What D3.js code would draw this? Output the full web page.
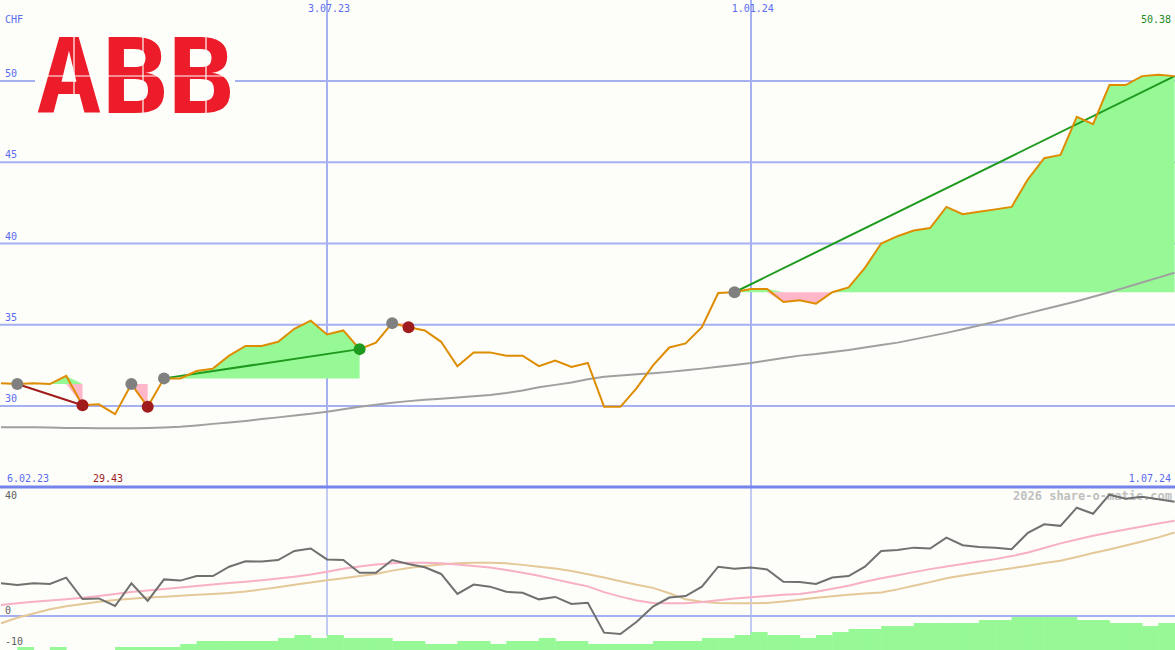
<!DOCTYPE html>
<html><head><meta charset="utf-8">
<script src="https://cdn.jsdelivr.net/npm/d3@7"></script>
<style>body{margin:0;background:#fdfdf9}svg{display:block}text{font-family:"DejaVu Sans Mono",monospace}</style>
</head><body><svg id="c" width="1175" height="650"></svg>
<script>
const priceTicks = [30, 35, 40, 45, 50];
const dateTicks = [{k:20,label:"3.07.23"},{k:46,label:"1.01.24"}];
const price = [31.4,31.35,31.4,31.35,31.85,30.05,30.1,29.5,31.35,29.95,31.7,31.7,32.15,32.3,33.1,33.7,33.7,33.95,34.75,35.25,34.4,34.65,33.5,33.9,35.1,34.85,34.65,33.95,32.45,33.3,33.3,33.1,33.1,32.45,32.8,32.4,32.65,29.95,29.95,31.1,32.5,33.6,33.85,34.85,36.95,37.0,37.2,37.2,36.4,36.5,36.3,37.0,37.3,38.5,40.0,40.45,40.8,40.95,42.25,41.8,41.95,42.1,42.25,43.95,45.25,45.45,47.8,47.35,49.75,49.75,50.3,50.38,50.3];
const ma200 = [28.7,28.7,28.7,28.68,28.65,28.65,28.63,28.63,28.63,28.65,28.68,28.72,28.8,28.9,28.98,29.08,29.2,29.3,29.42,29.52,29.65,29.8,29.95,30.08,30.2,30.3,30.38,30.45,30.52,30.6,30.68,30.8,30.95,31.15,31.3,31.45,31.65,31.8,31.87,31.95,32.02,32.1,32.2,32.3,32.42,32.53,32.65,32.8,32.95,33.1,33.2,33.33,33.45,33.6,33.75,33.9,34.1,34.3,34.5,34.72,34.95,35.18,35.45,35.7,35.95,36.2,36.45,36.72,37.0,37.3,37.6,37.9,38.2];
const signals = [{k:1,type:"watch"},{k:5,type:"sell"},{k:8,type:"watch"},{k:9,type:"sell"},{k:10,type:"watch"},{k:22,type:"buy"},{k:24,type:"watch"},{k:25,type:"sell"},{k:45,type:"watch"}];
const momentum = [10.8,10.25,10.8,10.6,12.7,5.6,5.8,3.3,10.8,5.0,12.1,11.7,13.2,13.2,16.3,18.1,18.0,18.5,21.5,22.3,18.7,18.5,14.3,14.3,18.5,17.2,16.1,13.9,7.3,10.4,9.7,8.0,7.7,5.5,6.3,4.0,4.4,-5.5,-5.95,-1.9,3.1,6.1,6.6,9.7,16.3,15.6,16.0,15.4,11.3,11.2,10.6,12.7,13.2,16.3,21.5,21.8,22.6,22.3,25.9,23.4,22.8,22.6,22.1,27.5,30.3,29.8,35.8,33.8,40.1,38.8,39.4,38.6,37.8];
const momFast = [3.6,4.2,4.7,5.1,5.5,6.0,6.6,7.3,7.9,8.4,8.9,9.4,9.9,10.4,10.9,11.3,11.8,12.4,13.0,13.7,14.6,15.6,16.4,17.0,17.4,17.6,17.6,17.4,17.0,16.5,16.0,15.2,14.3,13.3,12.1,10.9,9.8,7.9,6.4,5.1,4.3,4.2,4.2,4.6,5.2,5.8,6.2,6.6,7.0,7.3,8.0,9.0,10.0,11.3,12.5,13.5,14.5,15.5,16.4,17.2,18.0,18.8,19.8,21.0,22.5,24.0,25.3,26.5,27.6,28.6,29.6,30.6,31.5];
const momSlow = [-2.4,-0.6,0.8,2.2,3.2,4.0,4.7,5.3,5.7,6.1,6.4,6.7,7.0,7.3,7.6,8.1,8.8,9.5,10.3,11.1,11.8,12.5,13.2,13.9,15.0,15.9,16.5,17.0,17.4,17.6,17.6,17.4,16.9,16.3,15.7,14.9,13.8,12.7,11.5,10.3,9.3,7.5,5.5,4.7,4.3,4.2,4.2,4.3,4.8,5.4,6.0,6.5,7.0,7.4,7.8,8.8,10.0,11.2,12.5,13.4,14.2,15.0,15.8,16.6,17.5,18.3,19.5,20.8,22.0,23.3,24.6,26.0,27.6];
const volumeLevels = [0,1,0,1,0,0,0,1,1,1,1,2,3,3,3,3,3,4,5,4,5,4,4,4,3,3,2,2,3,3,2,3,3,4,3,3,2,2,2,2,3,3,3,4,4,5,6,5,5,4,5,6,7,7,8,8,9,9,9,9,10,10,11,11,11,11,10,10,9,9,8,9];
const lowLabel = "29.43";

const svg = d3.select("#c");
const x = d3.scaleLinear().domain([0,72]).range([1,1174.6]);
const y = d3.scaleLinear().domain([30,50]).range([406,81]);
const y2 = d3.scaleLinear().domain([0,40]).range([616,495]);
const yv = d3.scaleLinear().domain([0,11]).range([650,617]);
const grid = "#a4b0f2";

svg.append("rect").attr("width",1175).attr("height",650).attr("fill","#fdfdf9");
svg.selectAll(".hg").data(priceTicks).join("line").attr("x1",0).attr("x2",1175)
 .attr("y1",d=>y(d)).attr("y2",d=>y(d)).attr("stroke",grid).attr("stroke-width",2);
svg.selectAll(".hl").data(priceTicks).join("text").attr("x",5).attr("y",d=>y(d)-4)
 .attr("fill","#5a6cf0").attr("font-size",10).text(d=>d);
svg.selectAll(".vg").data(dateTicks).join("line").attr("x1",d=>Math.round(x(d.k))).attr("x2",d=>Math.round(x(d.k)))
 .attr("y1",0).attr("y2",487).attr("stroke",grid).attr("stroke-width",2);
svg.selectAll(".vg2").data(dateTicks).join("line").attr("x1",d=>Math.round(x(d.k))).attr("x2",d=>Math.round(x(d.k)))
 .attr("y1",487).attr("y2",636).attr("stroke",grid).attr("stroke-width",1.3);
svg.selectAll(".vl").data(dateTicks).join("text").attr("x",d=>x(d.k)+2).attr("y",12).attr("text-anchor","middle")
 .attr("fill","#5a6cf0").attr("font-size",10).text(d=>d.label);
svg.append("text").attr("x",5).attr("y",23).attr("fill","#5a6cf0").attr("font-size",10).text("CHF");

const segs = [[1,5],[8,9],[10,22],[24,25],[45,72]];
segs.forEach(([a,b])=>{
  const base = price[a];
  const idx = d3.range(a,b+1);
  const up = d3.area().x(i=>x(i)).y0(y(base)).y1(i=>y(Math.max(price[i],base)));
  const dn = d3.area().x(i=>x(i)).y0(y(base)).y1(i=>y(Math.min(price[i],base)));
  svg.append("path").attr("d",up(idx)).attr("fill","#96f996");
  svg.append("path").attr("d",dn(idx)).attr("fill","#ffb6c8");
});
svg.append("path").attr("d",d3.line().x((d,i)=>x(i)).y(d=>y(d))(ma200)).attr("fill","none").attr("stroke","#a0a0a0").attr("stroke-width",2);
const trends = [[1,5,"#a01c1c"],[10,22,"#1e9a1e"],[45,72,"#1e9a1e"]];
trends.forEach(([a,b,c])=>svg.append("line").attr("x1",x(a)).attr("y1",y(price[a])).attr("x2",x(b)).attr("y2",y(price[b])).attr("stroke",c).attr("stroke-width",2));
svg.append("path").attr("d",d3.line().x((d,i)=>x(i)).y(d=>y(d))(price)).attr("fill","none").attr("stroke","#de8c00").attr("stroke-width",2);
const dotCol = {watch:"#808080",sell:"#a01c1c",buy:"#1e9a1e"};
svg.selectAll(".dot").data(signals).join("circle").attr("cx",d=>x(d.k)).attr("cy",d=>y(price[d.k])).attr("r",6)
 .attr("fill",d=>dotCol[d.type]);

// logo
svg.append("rect").attr("x",35).attr("y",33).attr("width",200).attr("height",83).attr("fill","#fdfdf9");
svg.append("text").attr("x",36).attr("y",113).attr("font-family","Liberation Sans, Arial").attr("font-weight","bold")
 .attr("font-size",104).attr("textLength",198).attr("lengthAdjust","spacingAndGlyphs").attr("fill","#ec1c2b").text("ABB");
svg.append("line").attr("x1",35).attr("x2",235).attr("y1",76).attr("y2",76).attr("stroke","#fdfdf9").attr("stroke-width",1.2);
[74,143,206].forEach(v=>svg.append("line").attr("x1",v).attr("x2",v).attr("y1",35).attr("y2",115).attr("stroke","#fdfdf9").attr("stroke-width",1.2));

svg.append("text").attr("x",1171).attr("y",23).attr("text-anchor","end").attr("fill","#1e8a1e").attr("font-size",10).text(d3.format(".2f")(price[71]));

// lower panel
svg.append("line").attr("x1",0).attr("x2",1175).attr("y1",487).attr("y2",487).attr("stroke","#7484ec").attr("stroke-width",3);
svg.append("line").attr("x1",0).attr("x2",1175).attr("y1",y2(0)).attr("y2",y2(0)).attr("stroke",grid).attr("stroke-width",2);
svg.append("text").attr("x",7).attr("y",482).attr("fill","#5a6cf0").attr("font-size",10).text("6.02.23");
svg.append("text").attr("x",93).attr("y",482).attr("fill","#a01c1c").attr("font-size",10).text(lowLabel);
svg.append("text").attr("x",1171).attr("y",482).attr("text-anchor","end").attr("fill","#5a6cf0").attr("font-size",10).text("1.07.24");
svg.append("text").attr("x",1172).attr("y",500).attr("text-anchor","end").attr("fill","#c0c0c0").attr("font-size",12).attr("font-weight","bold").text("2026 share-o-matic.com");
[[40,499],[0,614],[-10,645]].forEach(([v,yy])=>svg.append("text").attr("x",5).attr("y",yy).attr("fill","#606060").attr("font-size",10).text(v));
svg.selectAll(".vb").data(volumeLevels).join("rect").attr("x",(d,i)=>x(i)).attr("width",(d,i)=>x(i+1)-x(i)+0.5)
 .attr("y",d=>yv(d)).attr("height",d=>650-yv(d)).attr("fill","#96f996");
const l2 = d3.line().x((d,i)=>x(i)).y(d=>y2(d));
svg.append("path").attr("d",l2(momSlow)).attr("fill","none").attr("stroke","#e4c898").attr("stroke-width",2);
svg.append("path").attr("d",l2(momFast)).attr("fill","none").attr("stroke","#f8b0c4").attr("stroke-width",2);
svg.append("path").attr("d",l2(momentum)).attr("fill","none").attr("stroke","#707070").attr("stroke-width",2);
</script></body></html>
